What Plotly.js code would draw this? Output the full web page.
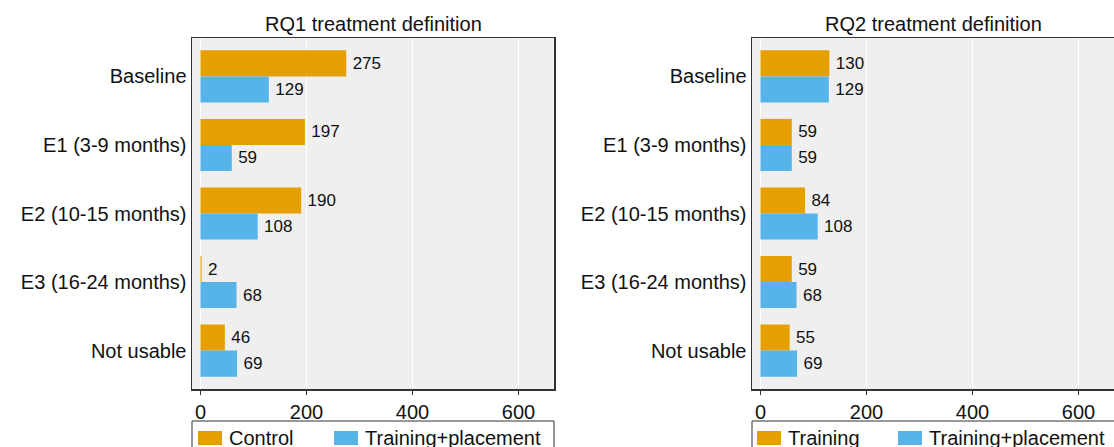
<!DOCTYPE html>
<html>
<head>
<meta charset="utf-8">
<script src="https://cdn.plot.ly/plotly-3.0.1.min.js"></script>
<style>
html,body{margin:0;padding:0;overflow:hidden;background:#fff;width:1114px;height:447px;}
#chart{width:1120px;height:460px;}
</style>
</head>
<body>
<div id="chart"></div>
<script>
const categories = ["Baseline", "E1 (3-9 months)", "E2 (10-15 months)", "E3 (16-24 months)", "Not usable"];
const rq1Control = [275, 197, 190, 2, 46];
const rq1TrainPlace = [129, 59, 108, 68, 69];
const rq2Training = [130, 59, 84, 59, 55];
const rq2TrainPlace = [129, 59, 108, 68, 69];
const xTicks = [0, 200, 400, 600];
const rq1Names = ["Control", "Training+placement"];
const rq2Names = ["Training", "Training+placement"];

const ORANGE = "#E69F00", BLUE = "#56B4E9";
const W = 1120, H = 460;
const FONT = "Liberation Sans, Arial, sans-serif";
const txtFont = {family: FONT, size: 17, color: "#111"};
const px = v => v / W, py = v => 1 - v / H;

function bar(x, name, color, xa, ya) {
  return {
    type: "bar", orientation: "h", y: categories, x: x, name: name,
    marker: {color: color, line: {width: 0}},
    text: x.map(v => "\u2009" + v), textposition: "outside", cliponaxis: false,
    textfont: txtFont, xaxis: xa, yaxis: ya, showlegend: false, hoverinfo: "x+y"
  };
}

const data = [
  bar(rq1Control, rq1Names[0], ORANGE, "x", "y"),
  bar(rq1TrainPlace, rq1Names[1], BLUE, "x", "y"),
  bar(rq2Training, rq2Names[0], ORANGE, "x2", "y2"),
  bar(rq2TrainPlace, rq2Names[1], BLUE, "x2", "y2")
];

function xax(d0, d1, anchor) {
  return {
    domain: [px(d0), px(d1)], anchor: anchor, range: [-16, 667],
    tickvals: xTicks, ticktext: xTicks.map(String), ticks: "outside", ticklen: 4,
    tickcolor: "#333", tickfont: {family: FONT, size: 20, color: "#111"},
    showgrid: true, gridcolor: "#ffffff", gridwidth: 1, zeroline: false,
    showline: true, mirror: true, linecolor: "#333", linewidth: 1.5, fixedrange: true
  };
}
function yax(anchor) {
  return {
    domain: [py(389), py(38)], anchor: anchor, type: "category",
    categoryorder: "array", categoryarray: categories, range: [4.56, -0.56],
    showgrid: false, ticks: "", ticklabelstandoff: 0,
    tickfont: {family: FONT, size: 20, color: "#111"},
    showline: true, mirror: true, linecolor: "#333", linewidth: 1.5, fixedrange: true
  };
}

// custom legends (box + swatches + labels)
const shapes = [], annotations = [];
function legendBox(x0, x1, items) {
  shapes.push({type: "rect", xref: "paper", yref: "paper", x0: px(x0), x1: px(x1), y0: py(470), y1: py(421),
    line: {color: "#333", width: 1}, fillcolor: "#fff", layer: "above"});
  items.forEach(it => {
    shapes.push({type: "rect", xref: "paper", yref: "paper", x0: px(it.sx), x1: px(it.sx + 24), y0: py(445), y1: py(431),
      line: {width: 0}, fillcolor: it.color, layer: "above"});
    annotations.push({text: it.name, xref: "paper", yref: "paper", x: px(it.sx + 29), y: py(437.5),
      xanchor: "left", yanchor: "middle", showarrow: false, font: {family: FONT, size: 20, color: "#111"}});
  });
}
legendBox(192, 554, [{sx: 198, color: ORANGE, name: rq1Names[0]}, {sx: 334, color: BLUE, name: rq1Names[1]}]);
legendBox(752, 1130, [{sx: 757, color: ORANGE, name: rq2Names[0]}, {sx: 898, color: BLUE, name: rq2Names[1]}]);

annotations.push(
  {text: "RQ1 treatment definition", xref: "paper", yref: "paper", x: px((192 + 554) / 2), y: py(37),
   xanchor: "center", yanchor: "bottom", showarrow: false, font: {family: FONT, size: 20, color: "#111"}},
  {text: "RQ2 treatment definition", xref: "paper", yref: "paper", x: px((752 + 1114) / 2), y: py(37),
   xanchor: "center", yanchor: "bottom", showarrow: false, font: {family: FONT, size: 20, color: "#111"}}
);

const layout = {
  width: W, height: H, margin: {l: 0, r: 0, t: 0, b: 0},
  paper_bgcolor: "#fff", plot_bgcolor: "#efefef",
  barmode: "group", bargap: 0.24, bargroupgap: 0,
  font: {family: FONT, color: "#111"},
  xaxis: xax(192, 554, "y"), yaxis: yax("x"),
  xaxis2: xax(752, 1114, "y2"), yaxis2: yax("x2"),
  showlegend: false,
  shapes: shapes, annotations: annotations
};

Plotly.newPlot("chart", data, layout, {displayModeBar: false, staticPlot: true});
</script>
</body>
</html>
